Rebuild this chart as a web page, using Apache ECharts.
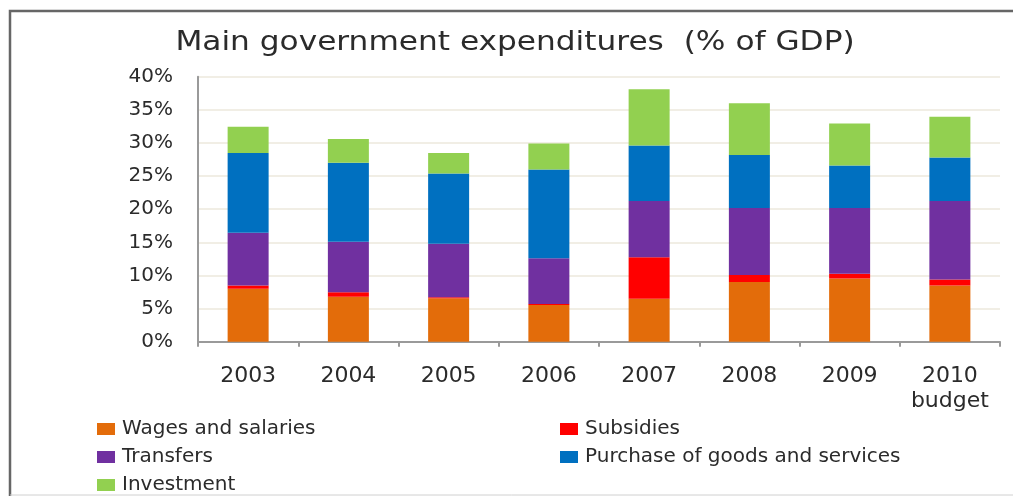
<!DOCTYPE html>
<html>
<head>
<meta charset="utf-8">
<script src="https://cdn.jsdelivr.net/npm/echarts@6/dist/echarts.min.js"></script>
<style>
  html, body { margin: 0; padding: 0; background: #ffffff; overflow: hidden; }
  #chart { width: 1013px; height: 496px; }
</style>
</head>
<body>
<div id="chart"></div>
<script>
// Main government expenditures, % of GDP
const years = ['2003', '2004', '2005', '2006', '2007', '2008', '2009', '2010\nbudget'];
const wages = [8.0, 6.8, 6.55, 5.55, 6.5, 9.0, 9.55, 8.5];
const subsidies = [0.5, 0.65, 0.15, 0.15, 6.25, 1.05, 0.7, 0.9];
const transfers = [7.95, 7.65, 8.1, 6.9, 8.5, 10.15, 9.95, 11.85];
const purchases = [12.05, 11.9, 10.6, 13.4, 8.35, 8.0, 6.4, 6.55];
const investment = [3.95, 3.6, 3.1, 3.9, 8.5, 7.8, 6.35, 6.15];
const yTicks = [0, 5, 10, 15, 20, 25, 30, 35, 40];
const titleText = 'Main government expenditures  (% of GDP)';

const FONT = 'DejaVu Sans';
const TEXT = '#2b2b2b';

function stack(name, data, color) {
  return {
    name: name,
    type: 'bar',
    stack: 'total',
    data: data,
    barWidth: 41,
    itemStyle: { color: color },
    emphasis: { disabled: true }
  };
}

// one legend entry per slot, laid out as two columns
function legendItem(name, left, top) {
  return {
    data: [name],
    left: left,
    top: top,
    padding: 0,
    itemWidth: 18,
    itemHeight: 12,
    itemGap: 0,
    selectedMode: false,
    icon: 'rect',
    textStyle: { fontFamily: FONT, fontSize: 20, color: TEXT, padding: [0, 0, 0, 2] }
  };
}

const chart = echarts.init(document.getElementById('chart'), null, { renderer: 'canvas' });
chart.setOption({
  animation: false,
  backgroundColor: '#ffffff',
  graphic: [{
    // frame: left and top edges
    type: 'polyline',
    silent: true,
    shape: { points: [[10, 496], [10, 11], [1013, 11]] },
    style: { fill: null, stroke: '#666666', lineWidth: 2.5 }
  }, {
    type: 'line',
    silent: true,
    shape: { x1: 10, y1: 495, x2: 1013, y2: 495 },
    style: { stroke: '#d0d0d0', lineWidth: 1 }
  }, {
    type: 'text',
    silent: true,
    x: 515,
    y: 43,
    scaleX: 1.2,
    style: {
      text: titleText,
      x: 0,
      y: 0,
      align: 'center',
      verticalAlign: 'middle',
      font: '26px "DejaVu Sans"',
      fill: TEXT
    }
  }],
  legend: [
    legendItem('Wages and salaries', 97, 419),
    legendItem('Transfers', 97, 447),
    legendItem('Investment', 97, 475),
    legendItem('Subsidies', 560, 419),
    legendItem('Purchase of goods and services', 560, 447)
  ],
  grid: { left: 198, right: 13, top: 76.7, bottom: 154.3, containLabel: false },
  xAxis: {
    type: 'category',
    data: years,
    boundaryGap: true,
    axisLine: { show: true, lineStyle: { color: '#9a9a9a', width: 2 } },
    axisTick: { show: true, alignWithLabel: false, length: 5, lineStyle: { color: '#9a9a9a', width: 2 } },
    axisLabel: {
      interval: 0,
      margin: 22,
      fontFamily: FONT, fontSize: 22, color: TEXT, lineHeight: 25
    }
  },
  yAxis: {
    type: 'value',
    min: yTicks[0],
    max: yTicks[yTicks.length - 1],
    interval: 5,
    axisLine: { show: true, lineStyle: { color: '#9a9a9a', width: 2 } },
    axisTick: { show: false },
    splitLine: { show: true, lineStyle: { color: '#ede9dd', width: 1.5 } },
    axisLabel: {
      margin: 25,
      formatter: '{value}%',
      fontFamily: FONT, fontSize: 20, color: TEXT
    }
  },
  series: [
    stack('Wages and salaries', wages, '#e36c0a'),
    stack('Subsidies', subsidies, '#ff0000'),
    stack('Transfers', transfers, '#7030a0'),
    stack('Purchase of goods and services', purchases, '#0070c0'),
    stack('Investment', investment, '#92d050')
  ]
});
</script>
</body>
</html>
